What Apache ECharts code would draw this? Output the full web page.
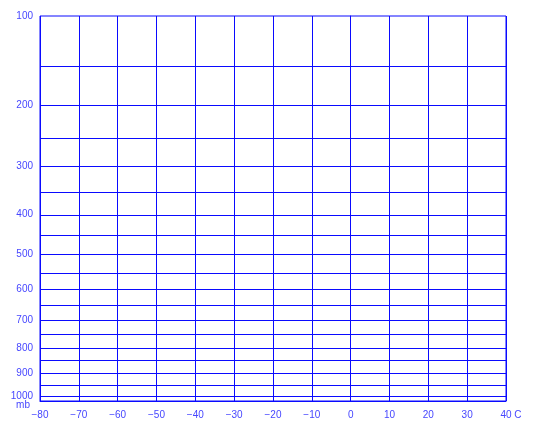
<!DOCTYPE html>
<html>
<head>
<meta charset="utf-8">
<script src="https://cdn.jsdelivr.net/npm/echarts@6/dist/echarts.min.js"></script>
<style>
html,body{margin:0;padding:0;background:#fff;}
#chart{width:540px;height:430px;}
</style>
</head>
<body>
<div id="chart"></div>
<script>
// ---- data ----
const KAPPA = 0.286;                 // vertical scale: p^0.286 (Stüve-type)
const pressureLines = [100,150,200,250,300,350,400,450,500,550,600,650,700,750,800,850,900,950,1000];
const pressureLabels = [100,200,300,400,500,600,700,800,900,1000];
const pressureTop = 100;
const pressureBottom = 1020;
const tempMin = -80;
const tempMax = 40;
const tempStep = 10;
const tempUnit = 'C';
const pressureUnit = 'mb';

// ---- helpers ----
const tp = p => Math.pow(p, KAPPA);
const fromTp = v => Math.round(Math.pow(v, 1 / KAPPA));
const LINE = '#0a0aff';
const TEXT = '#4646ff';
const FONT = 'Liberation Sans, Arial, sans-serif';

const chart = echarts.init(document.getElementById('chart'), null, {renderer: 'canvas'});
chart.setOption({
  animation: false,
  backgroundColor: '#ffffff',
  grid: {
    left: 40, right: 34, top: 16, bottom: 29,
    show: true, borderColor: LINE, borderWidth: 1, backgroundColor: 'transparent'
  },
  xAxis: {
    type: 'value',
    min: tempMin, max: tempMax, interval: tempStep,
    axisLine: {show: true, lineStyle: {color: LINE, width: 1}},
    axisTick: {show: false},
    splitLine: {show: true, lineStyle: {color: LINE, width: 1, type: 'solid'}},
    axisLabel: {
      show: true, margin: 9, color: TEXT, fontSize: 10, fontFamily: FONT,
      showMinLabel: true, showMaxLabel: true,
      formatter: v => {
        const s = (v < 0 ? '\u2212' + Math.abs(v) : String(v));
        return v === tempMax ? '{p|}' + s + ' ' + tempUnit : s;
      },
      rich: {p: {width: 10}}
    }
  },
  yAxis: {
    type: 'value',
    inverse: true,
    min: tp(pressureTop), max: tp(pressureBottom),
    axisLine: {show: true, lineStyle: {color: LINE, width: 1}},
    axisTick: {show: false},
    splitLine: {show: false},
    axisLabel: {
      show: true, margin: 7, color: TEXT, fontSize: 10, fontFamily: FONT,
      customValues: pressureLabels.map(tp),
      formatter: v => String(fromTp(v))
    }
  },
  series: [{
    type: 'line',
    data: [],
    silent: true,
    markLine: {
      silent: true,
      animation: false,
      symbol: ['none', 'none'],
      label: {show: false},
      emphasis: {disabled: true},
      lineStyle: {color: LINE, width: 1, type: 'solid'},
      data: pressureLines.map(p => ({yAxis: tp(p)}))
    }
  }]
});

// unit label under the bottom pressure label, placed from the axes' own scale
const corner = chart.convertToPixel({gridIndex: 0}, [tempMin, tp(pressureBottom)]);
chart.setOption({
  graphic: [{
    type: 'text',
    x: corner[0] - 10,
    y: corner[1] + 4,
    silent: true,
    style: {
      text: pressureUnit, fill: TEXT, fontSize: 10, fontFamily: FONT,
      align: 'right', verticalAlign: 'middle'
    }
  }]
});
</script>
</body>
</html>
